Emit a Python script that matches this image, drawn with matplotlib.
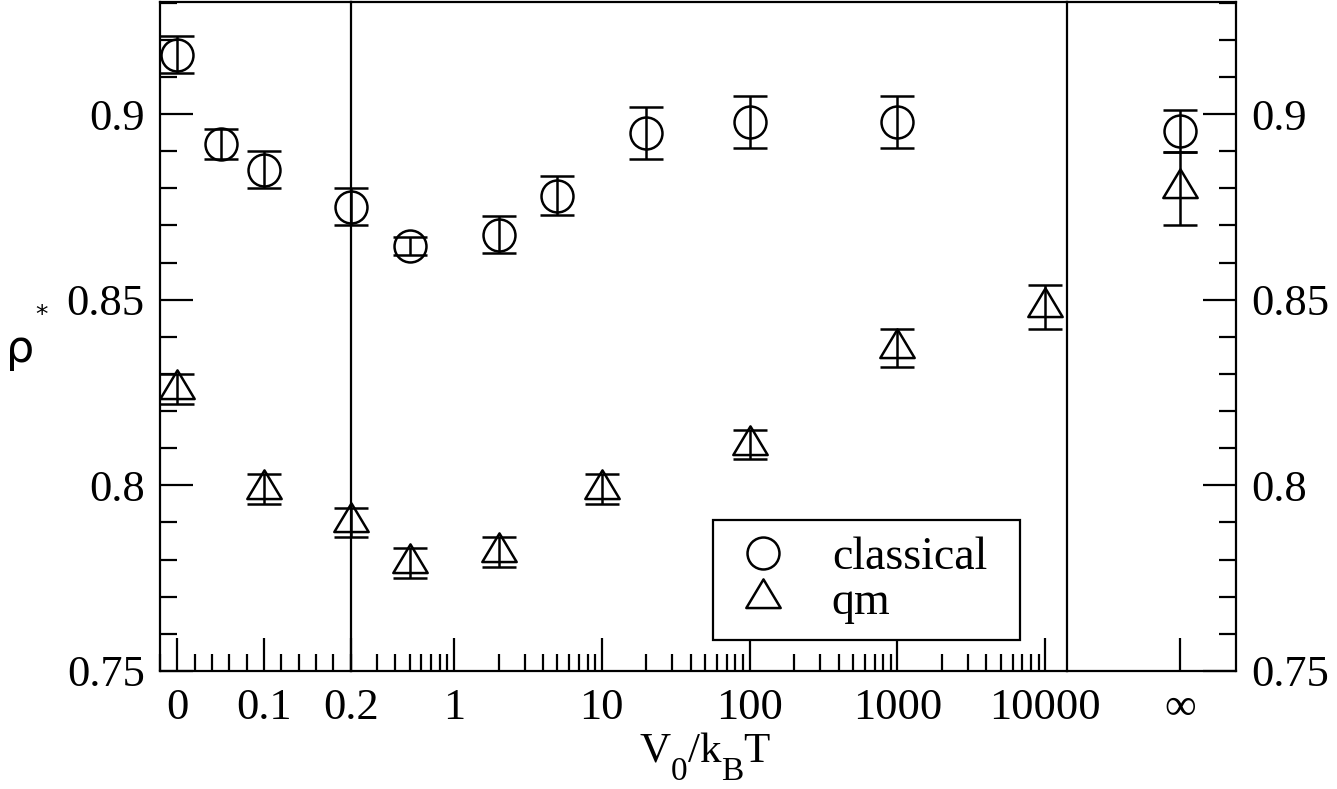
import numpy as np
import matplotlib

matplotlib.use("Agg")
import matplotlib.pyplot as plt
import matplotlib.ticker as mticker
from matplotlib.lines import Line2D
from matplotlib.path import Path

plt.rcParams["font.family"] = ["Liberation Serif", "DejaVu Serif"]

# rho* versus barrier height V0/kBT (np.inf = infinite barrier)
classical_v = [0, 0.05, 0.1, 0.2, 0.5, 2, 5, 20, 100, 1000, np.inf]
classical_rho = [0.916, 0.892, 0.885, 0.875, 0.8645, 0.8675, 0.878, 0.895, 0.898, 0.898, 0.8955]
classical_err = [0.005, 0.004, 0.005, 0.005, 0.0024, 0.005, 0.0052, 0.007, 0.007, 0.007, 0.0057]

qm_v = [0, 0.1, 0.2, 0.5, 2, 10, 100, 1000, 10000, np.inf]
qm_rho = [0.826, 0.799, 0.790, 0.779, 0.782, 0.799, 0.811, 0.837, 0.848, 0.880]
qm_err = [0.004, 0.004, 0.004, 0.004, 0.004, 0.004, 0.004, 0.005, 0.006, 0.0099]

lin_ticks = [0, 0.1, 0.2]
lin_labels = ["0", "0.1", "0.2"]
log_ticks = [1, 10, 100, 1000, 10000]
log_labels = ["1", "10", "100", "1000", "10000"]
inf_label = "\u221e"
y_ticks = [0.75, 0.8, 0.85, 0.9]
y_labels = ["0.75", "0.8", "0.85", "0.9"]

# x label pieces: (text, is_subscript)
xlabel_parts = [("V", False), ("0", True), ("/k", False), ("B", True), ("T", False)]

LW = 1.6
MLW = 1.8
TICK_FS = 32

# triangle with its centroid on the data point
tri = Path([(0, 1), (-0.9, -0.5), (0.9, -0.5), (0, 1)], closed=True)
STYLE = {
    "classical": dict(marker="o", ms=23),
    "qm": dict(marker=tri, ms=27.5),
}

W, H = 1337, 789
fig = plt.figure(figsize=(W / 100, H / 100), dpi=100)
bottom, height = 118 / H, 669 / H
ax_lin = fig.add_axes([160 / W, bottom, 190.7 / W, height])
ax_log = fig.add_axes([350.7 / W, bottom, 716.2 / W, height])
ax_inf = fig.add_axes([1066.9 / W, bottom, 169.1 / W, height])
axes = [ax_lin, ax_log, ax_inf]

for ax in axes:
    ax.patch.set_visible(False)
    ax.set_ylim(0.75, 0.9302)
    ax.set_yticks(y_ticks)
    ax.set_yticklabels(y_labels)
    ax.yaxis.set_minor_locator(mticker.MultipleLocator(0.01))
    for sp in ax.spines.values():
        sp.set_linewidth(LW)
    ax.tick_params(which="both", direction="in", width=LW, top=False,
                   left=False, right=False, labelleft=False, labelsize=TICK_FS)
    ax.tick_params(which="major", length=23.8)
    ax.tick_params(which="minor", length=12)
    ax.tick_params(axis="x", pad=12)

ax_log.spines["left"].set_visible(False)
ax_inf.spines["left"].set_visible(False)
ax_lin.tick_params(axis="y", which="both", left=True, labelleft=True, pad=11)
ax_inf.tick_params(axis="y", which="both", right=True, labelright=True, pad=11)

# linear part 0 .. 0.2
ax_lin.set_xlim(-0.02, 0.2)
ax_lin.set_xticks(lin_ticks)
ax_lin.set_xticklabels(lin_labels)
ax_lin.xaxis.set_minor_locator(mticker.MultipleLocator(0.02))

# logarithmic part 0.2 .. 1e4
ax_log.set_xscale("log")
ax_log.set_xlim(0.2, 14000)
ax_log.set_xticks(log_ticks)
ax_log.set_xticklabels(log_labels)
ax_log.xaxis.set_minor_locator(mticker.LogLocator(base=10, subs=np.arange(2, 10), numticks=20))
ax_log.xaxis.set_minor_formatter(mticker.NullFormatter())

# infinite barrier
ax_inf.set_xlim(-0.765, 0.38)
ax_inf.set_xticks([0])
ax_inf.set_xticklabels([inf_label])
ax_inf.xaxis.set_minor_locator(mticker.NullLocator())


def draw_series(v, rho, err, style):
    v, rho, err = np.asarray(v, float), np.asarray(rho), np.asarray(err)
    parts = [
        (ax_lin, v <= 0.2, v),
        (ax_log, (v > 0.2) & np.isfinite(v), v),
        (ax_inf, np.isinf(v), np.zeros_like(v)),
    ]
    for ax, m, x in parts:
        if not m.any():
            continue
        ax.errorbar(x[m], rho[m], yerr=err[m], linestyle="none",
                    marker=style["marker"], ms=style["ms"], mfc="none", mec="black",
                    mew=MLW, ecolor="black", elinewidth=MLW, capsize=12.2, capthick=MLW,
                    clip_on=False, zorder=3)


draw_series(classical_v, classical_rho, classical_err, STYLE["classical"])
draw_series(qm_v, qm_rho, qm_err, STYLE["qm"])

handles = [
    Line2D([], [], linestyle="none", marker=STYLE[k]["marker"], ms=STYLE[k]["ms"],
           mfc="none", mec="black", mew=MLW)
    for k in ("classical", "qm")
]
leg = ax_log.legend(handles, ["classical", "qm"], loc="upper left", mode="expand",
                    bbox_to_anchor=(712.7 / W, 1 - 637.7 / H, 307.3 / W, 117.7 / H),
                    bbox_transform=fig.transFigure, borderaxespad=0, borderpad=0.36,
                    handlelength=1.49, handletextpad=0.75, labelspacing=0.05,
                    fontsize=33, fancybox=False, framealpha=1, edgecolor="black",
                    numpoints=1)
leg.get_frame().set_linewidth(LW)

# x label built piece by piece so the subscripts sit low and large
base_y, sub_y = 27.5, 8.5
prev = fig.text(640 / W, base_y / H, xlabel_parts[0][0], fontsize=31,
                ha="left", va="baseline")
for txt, sub in xlabel_parts[1:]:
    prev = ax_log.annotate(txt, xy=(1, sub_y if sub else base_y),
                           xycoords=(prev, "figure pixels"),
                           fontsize=24 if sub else 31, ha="left", va="baseline",
                           annotation_clip=False)

fig.text(20 / W, 1 - 349 / H, "\u03c1", fontsize=32, family="DejaVu Sans",
         ha="center", va="center")
fig.text(41 / W, 1 - 315 / H, "*", fontsize=18, family="DejaVu Sans",
         ha="center", va="center")

fig.savefig("out.png", dpi=100)
